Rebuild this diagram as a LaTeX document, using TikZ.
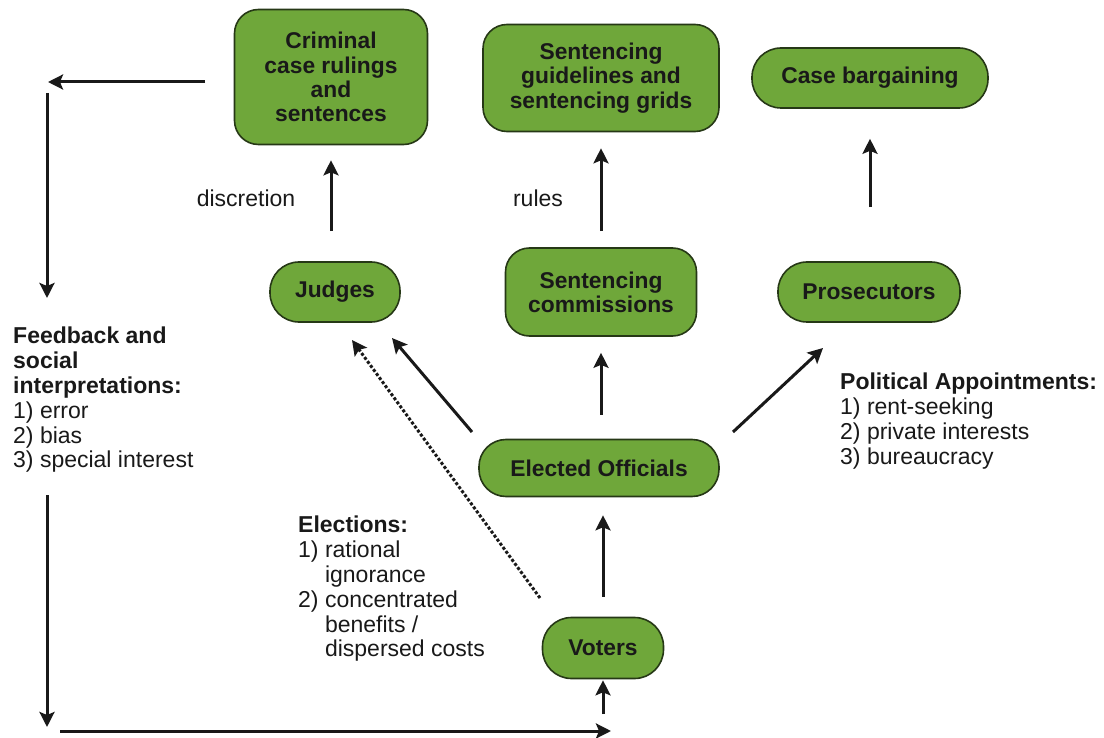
\documentclass[tikz,border=0pt]{standalone}
\usepackage{fontspec}
\setmainfont{Liberation Sans}
\usetikzlibrary{arrows.meta}
\definecolor{boxfill}{RGB}{111,167,58}
\definecolor{boxline}{RGB}{38,56,22}
\definecolor{txt}{RGB}{25,25,25}
\tikzset{
  box/.style={draw=boxline, fill=boxfill, line width=1.6pt, font=\fontsize{22.8}{24.2}\selectfont\bfseries, align=center, text=txt, inner sep=0pt},
  tip/.style={-{Stealth[length=15pt,width=15pt,inset=3pt]}},
  arr/.style={line width=3pt, tip, txt},
  lbl/.style={font=\fontsize{23}{24.8}\selectfont, text=txt, align=left, inner sep=0pt},
}
\begin{document}
\begin{tikzpicture}[x=1pt,y=-1pt]
\useasboundingbox (0,0) rectangle (1104,738);
% nodes
\node[box, minimum width=193pt, minimum height=135pt, rounded corners=24pt] (crim) at (331,77) {Criminal\\case rulings\\and\\sentences};
\node[box, minimum width=236pt, minimum height=107pt, rounded corners=24pt] (guide) at (601,78) {Sentencing\\guidelines and\\sentencing grids};
\node[box, minimum width=236pt, minimum height=60pt, rounded corners=29pt] (bargain) at (870,78) {Case bargaining};
\node[box, minimum width=130pt, minimum height=60pt, rounded corners=29pt] (judges) at (335,292) {Judges};
\node[box, minimum width=191pt, minimum height=88pt, rounded corners=24pt] (comm) at (601,292) {Sentencing\\commissions};
\node[box, minimum width=182pt, minimum height=60pt, rounded corners=29pt] (pros) at (869,292) {Prosecutors};
\node[box, minimum width=240pt, minimum height=57pt, rounded corners=27pt] (elected) at (599,468) {Elected Officials};
\node[box, minimum width=121pt, minimum height=61pt, rounded corners=29pt] (voters) at (603,648) {Voters};
% labels
\node[lbl, anchor=center] (disc) at (246,198) {discretion};
\node[lbl, anchor=center] (rules) at (538,198) {rules};
\node[lbl, anchor=north west] (feed) at (13,327) {\textbf{Feedback and}\\\textbf{social}\\\textbf{interpretations:}\\1) error\\2) bias\\3) special interest};
\node[lbl, anchor=north west] (elect) at (298,516) {\textbf{Elections:}\\1) rational\\\phantom{1) }ignorance\\2) concentrated\\\phantom{2) }benefits /\\\phantom{2) }dispersed costs};
\node[lbl, anchor=north west] (polit) at (840,373) {\textbf{Political Appointments:}\\1) rent-seeking\\2) private interests\\3) bureaucracy};
% coordinates for free ends
\coordinate (fbTopStart) at (205,82);
\coordinate (fbTopEnd) at (48,82);
\coordinate (fbDownA) at (47,93);
\coordinate (fbDownB) at (47,298);
\coordinate (fbDownC) at (47,495);
\coordinate (fbDownD) at (47,727);
\coordinate (fbRightA) at (60,731);
\coordinate (fbRightB) at (611,731);
\coordinate (vUp) at (603,714);
\coordinate (ejA) at (472,432);
\coordinate (ejB) at (392,338);
\coordinate (vjA) at (540,598);
\coordinate (vjB) at (352,340);
\coordinate (epA) at (733,432);
\coordinate (epB) at (823,348);
% connectors
\draw[arr, shorten <=30pt, shorten >=15pt] (crim.south |- judges.north) -- (crim.south);
\draw[arr, shorten <=16pt, shorten >=16pt] (guide.south |- comm.north) -- (guide.south);
\draw[arr, shorten <=54pt, shorten >=30pt] (bargain.south |- pros.north) -- (bargain.south);
\draw[arr, shorten <=24pt, shorten >=16pt] (comm.south |- elected.north) -- (comm.south);
\draw[arr, shorten <=20pt, shorten >=18pt] (voters.north) -- (voters.north |- elected.south);
\draw[arr, shorten >=1pt] (vUp) -- (voters.south);
\draw[arr] (ejA) -- (ejB);
\draw[arr] (epA) -- (epB);
\draw[line width=3pt, txt, dotted, tip] (vjA) -- (vjB);
\draw[arr] (fbTopStart) -- (fbTopEnd);
\draw[arr] (fbDownA) -- (fbDownB);
\draw[arr] (fbDownC) -- (fbDownD);
\draw[arr] (fbRightA) -- (fbRightB);
\end{tikzpicture}
\end{document}
